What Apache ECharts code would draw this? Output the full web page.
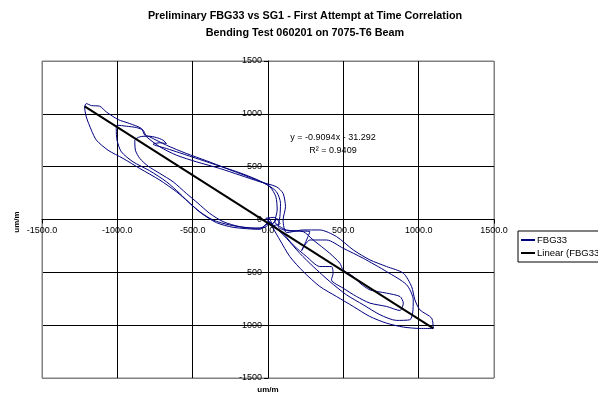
<!DOCTYPE html>
<html><head><meta charset="utf-8">
<script src="https://cdn.jsdelivr.net/npm/echarts@6/dist/echarts.min.js"></script>
<style>html,body{margin:0;padding:0;background:#fff}#c{width:598px;height:396px}</style>
</head><body><div id="c"></div>
<script>
const titleLines = ["Preliminary FBG33 vs SG1 - First Attempt at Time Correlation", "Bending Test 060201 on 7075-T6 Beam"];
const axisName = "um/m";
const seriesNames = ["FBG33", "Linear (FBG33)"];
const trendText = ["y = -0.9094x - 31.292", "R² = 0.9409"];
const axisTicks = [-1500, -1000, -500, 0, 500, 1000, 1500];

// FBG33 hysteresis loops: [um/m (SG1), um/m (FBG33)]
const cycle1 = [
 [0,-5],[-10,-68],[-99,-83],[-254,-52],[-365,-5],[-453,74],[-530,168],[-608,263],[-718,373],
 [-851,483],[-962,578],[-1062,656],[-1139,751],[-1172,845],[-1206,971],[-1217,1066],
 [-1206,1097],[-1172,1078],[-1117,1072],[-1073,1018],[-995,946],[-918,908],[-840,861],
 [-818,798],[-718,688],[-608,609],[-475,546],[-320,483],[-187,420],[-54,357],[56,310],
 [100,247],[116,121],[100,-5],
 [123,-124],[234,-99],[344,-99],[455,-162],[566,-288],[676,-382],[787,-445],[898,-508],
 [953,-634],[975,-760],[1008,-855],[1086,-933],[1097,-1031],
 [1008,-1031],[898,-1018],[787,-981],[676,-918],[566,-823],[455,-729],[344,-634],
 [234,-493],[145,-351],[79,-194],[34,-83],[8,-20]
];
const cycle2 = [
 [-54,-93],[-231,-74],[-342,-30],[-442,58],[-519,153],[-586,247],[-674,357],[-785,461],
 [-896,546],[-973,640],[-1002,750],[-1007,861],[-1002,892],
 [-940,883],[-873,870],[-829,845],[-811,798],[-785,782],[-674,703],[-542,625],[-409,556],
 [-276,483],[-143,411],[-21,342],[56,263],[83,153],[79,27],[68,-68],
 [123,-105],[278,-115],[256,-194],[223,-295],[278,-194],[389,-194],[499,-272],[632,-367],
 [787,-493],[920,-618],[964,-760],[960,-886],[942,-949],
 [853,-955],[743,-901],[632,-807],[521,-713],[410,-587],[300,-445],[211,-320],[123,-178],
 [56,-83],[12,-30]
];
const cycle3 = [
 [-54,-83],[-187,-68],[-298,-20],[-387,58],[-464,153],[-542,247],[-630,357],[-718,436],
 [-796,505],[-851,578],[-880,656],[-884,750],
 [-851,782],[-796,789],[-741,776],[-697,751],[-674,719],[-718,726],[-763,713],[-674,672],
 [-586,631],[-453,568],[-320,505],[-187,442],[-76,379],[12,310],[52,216],[61,90],[45,-20],
 [123,-99],[234,-115],[300,-194],[410,-320],[477,-414],[499,-477],[566,-540],[611,-603],
 [676,-666],[787,-697],[876,-729],[898,-791],[876,-861],
 [787,-823],[676,-791],[588,-729],[499,-650],[421,-571],[432,-508],[421,-445],[344,-445],
 [256,-351],[167,-241],[100,-131],[34,-52],[0,-5]
];
const tangle = [[5,20],[30,-40],[60,10],[20,-60],[80,-40],[40,20],[-15,10],[0,0]];
const trendPoints = [[-1217,1070],[1097,-1030]];

const fbg33 = cycle1.concat(cycle2, cycle3, tangle);

const chart = echarts.init(document.getElementById('c'), null, {renderer:'canvas'});
const font = 'Arial, "Liberation Sans", sans-serif';
const gridColors = ['#808080','#000','#000','#000','#000','#000','#808080'];
const G = {left: 42, top: 61, width: 452, height: 317};
chart.setOption({
  animation: false,
  backgroundColor: '#fff',
  textStyle: {fontFamily: font},
  grid: {left: G.left, top: G.top, width: G.width, height: G.height, show: true, borderColor: '#808080', borderWidth: 1, containLabel: false},
  xAxis: {
    type: 'value', min: axisTicks[0], max: axisTicks[axisTicks.length-1], interval: 500,
    position: 'bottom', offset: -G.height / 2,
    axisLine: {onZero: false, lineStyle: {color: '#000', width: 1}},
    axisTick: {show: true, length: 4, lineStyle: {color: '#000'}},
    axisLabel: {color: '#000', fontSize: 9, margin: 7, formatter: v => v.toFixed(1)},
    splitLine: {show: true, lineStyle: {color: gridColors, width: 1}}
  },
  yAxis: {
    type: 'value', min: axisTicks[0], max: axisTicks[axisTicks.length-1], interval: 500,
    position: 'left', offset: -G.width / 2,
    axisLine: {onZero: false, lineStyle: {color: '#000', width: 1}},
    axisTick: {show: true, length: 4, lineStyle: {color: '#000'}},
    axisLabel: {color: '#000', fontSize: 9, margin: 6, formatter: v => String(v)},
    splitLine: {show: true, lineStyle: {color: gridColors, width: 1}}
  },
  legend: {
    orient: 'vertical', left: 518, top: 231, itemWidth: 14, itemHeight: 2, itemGap: 3,
    borderColor: '#000', borderWidth: 1, padding: [4, 30, 4, 3], icon: 'rect',
    textStyle: {fontSize: 9.5, color: '#000', padding: [0,0,0,-3]},
    data: [{name: seriesNames[0], itemStyle: {color: '#000080'}}, {name: seriesNames[1], itemStyle: {color: '#000'}}]
  },
  series: [
    {name: seriesNames[0], type: 'line', data: fbg33, showSymbol: false, smooth: 0.25,
     lineStyle: {color: '#000080', width: 1}, itemStyle: {color: '#000080'}, z: 2},
    {name: seriesNames[1], type: 'line', data: trendPoints, showSymbol: false,
     lineStyle: {color: '#000', width: 2}, itemStyle: {color: '#000'}, z: 3}
  ],
  graphic: [
    {type: 'text', x: 305, y: 16, style: {text: titleLines[0], font: 'bold 10.8px Arial, "Liberation Sans", sans-serif', fill: '#000', align: 'center', verticalAlign: 'middle'}},
    {type: 'text', x: 305, y: 33, style: {text: titleLines[1], font: 'bold 10.8px Arial, "Liberation Sans", sans-serif', fill: '#000', align: 'center', verticalAlign: 'middle'}},
    {type: 'text', x: 333, y: 138, style: {text: trendText[0], font: '9px Arial, "Liberation Sans", sans-serif', fill: '#000', align: 'center', verticalAlign: 'middle'}},
    {type: 'text', x: 333, y: 151, style: {text: trendText[1], font: '9px Arial, "Liberation Sans", sans-serif', fill: '#000', align: 'center', verticalAlign: 'middle'}},
    {type: 'text', x: 268, y: 390, style: {text: axisName, font: 'bold 8px Arial, "Liberation Sans", sans-serif', fill: '#000', align: 'center', verticalAlign: 'middle'}},
    {type: 'text', x: 17, y: 222, rotation: Math.PI/2, style: {text: axisName, font: 'bold 8px Arial, "Liberation Sans", sans-serif', fill: '#000', align: 'center', verticalAlign: 'middle'}}
  ]
});
</script></body></html>
